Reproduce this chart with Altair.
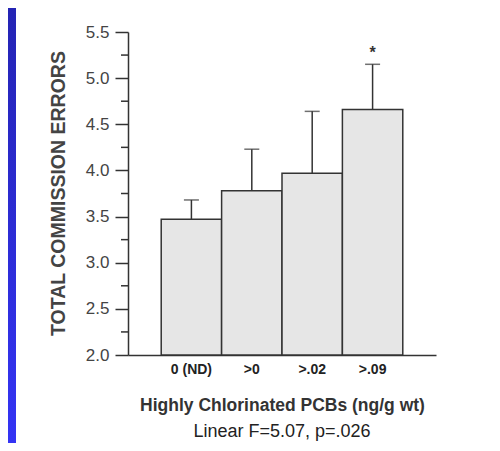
import altair as alt
import pandas as pd

categories = ["0 (ND)", ">0", ">.02", ">.09"]
means = [3.47, 3.78, 3.97, 4.66]
upper = [3.68, 4.23, 4.64, 5.15]
sig = ["", "", "", "*"]
major_ticks = [2.0, 2.5, 3.0, 3.5, 4.0, 4.5, 5.0, 5.5]
minor_ticks = [2.25, 2.75, 3.25, 3.75, 4.25, 4.75, 5.25]
stat_text = ["Linear F=5.07, p=.026"]

df = pd.DataFrame({"group": categories, "mean": means, "upper": upper, "sig": sig})
minor_df = pd.DataFrame({"v": minor_ticks})

FONT = "Liberation Sans"
INK = "#333333"

x_enc = alt.X(
    "group:N",
    sort=categories,
    scale=alt.Scale(paddingInner=0, paddingOuter=0.55),
    axis=alt.Axis(
        title="Highly Chlorinated PCBs (ng/g wt)",
        labelAngle=0,
        labelAlign="center",
        ticks=False,
        labelFontWeight="bold",
        labelFontSize=14,
        labelPadding=14,
        labelColor="#222222",
        titleFontSize=17.5,
        titleFontWeight="bold",
        titleColor="#333333",
        titleY=55,
        titleBaseline="alphabetic",
        domainColor=INK,
        domainWidth=1.5,
    ),
)

y_scale = alt.Scale(domain=[2.0, 5.5], zero=False, nice=False)
y_axis = alt.Axis(
    title="TOTAL COMMISSION ERRORS",
    values=major_ticks,
    format=".1f",
    labelOverlap=False,
    labelFontSize=17,
    labelColor="#444444",
    labelPadding=6,
    tickSize=13,
    tickColor=INK,
    tickWidth=1.5,
    domainColor=INK,
    domainWidth=1.5,
    grid=False,
    titleFontSize=19.5,
    titleFontWeight="bold",
    titleColor="#444444",
    titleAngle=270,
    titleAlign="center",
    titleBaseline="middle",
    titleX=-70,
    titleY=161,
)

base = alt.Chart(df)

strip = alt.Chart(alt.Data(values=[{"k": 1}])).mark_rect(
    color=alt.LinearGradient(
        gradient="linear",
        stops=[alt.GradientStop(color="#2424b4", offset=0), alt.GradientStop(color="#3434f4", offset=1)],
        x1=0, x2=0, y1=0, y2=1,
    )
).encode(x=alt.value(-120), x2=alt.value(-112), y=alt.value(-24), y2=alt.value(411))

minor = alt.Chart(minor_df).mark_rule(color=INK, strokeWidth=1.5).encode(
    y=alt.Y("v:Q", scale=y_scale), x=alt.value(-7), x2=alt.value(0)
)

bars = base.mark_bar(fill="#e6e6e6", stroke=INK, strokeWidth=1.5).encode(
    x=x_enc,
    y=alt.Y("mean:Q", scale=y_scale, axis=y_axis),
    y2=alt.datum(2.0),
)

rules = base.mark_rule(color=INK, strokeWidth=1.5).encode(
    x=alt.X("group:N", sort=categories), y="mean:Q", y2="upper:Q"
)

caps = base.mark_tick(color=INK, thickness=1.5, size=15).encode(
    x=alt.X("group:N", sort=categories), y="upper:Q"
)

stars = base.mark_text(fontSize=16, fontWeight="bold", dy=-6, baseline="alphabetic", color=INK, font=FONT).encode(
    x=alt.X("group:N", sort=categories), y="upper:Q", text="sig:N"
)

stat = alt.Chart(pd.DataFrame({"t": stat_text})).mark_text(
    fontSize=18, color="#222222", font=FONT, align="center", baseline="alphabetic"
).encode(x=alt.value(154), y=alt.value(405), text="t:N")

chart = alt.layer(strip, minor, rules, bars, caps, stars, stat).properties(
    width=308,
    height=323,
    autosize=alt.AutoSizeParams(type="none"),
    padding={"left": 120, "top": 24, "right": 56, "bottom": 88},
).configure(font=FONT, background="white").configure_view(stroke=None)

chart.save("out.html", embed_options={"renderer": "svg", "actions": False})
